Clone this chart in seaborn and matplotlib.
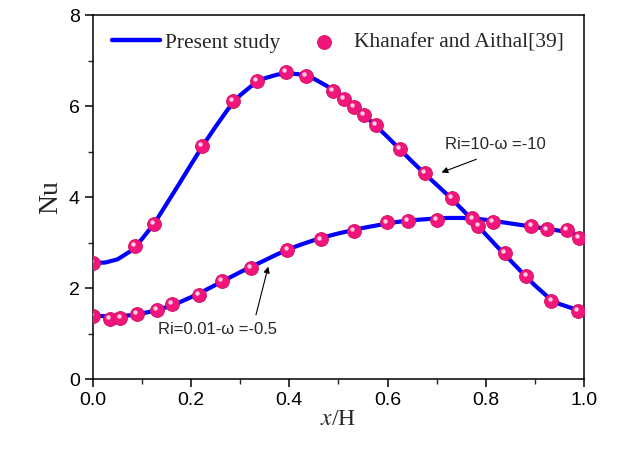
import matplotlib
matplotlib.use("Agg")
import matplotlib.pyplot as plt
import matplotlib.transforms as mtransforms
from matplotlib.ticker import MultipleLocator
import seaborn as sns

# Present study curves
line_x = [0.0, 0.025, 0.05, 0.075, 0.10, 0.125, 0.15, 0.175, 0.20, 0.225,
          0.25, 0.275, 0.30, 0.325, 0.35, 0.375, 0.40, 0.425, 0.45, 0.475,
          0.50, 0.525, 0.55, 0.575, 0.60, 0.625, 0.65, 0.675, 0.70, 0.725,
          0.75, 0.775, 0.80, 0.825, 0.85, 0.875, 0.90, 0.925, 0.95, 0.975, 1.0]
nu_ri10 = [2.55, 2.56, 2.63, 2.80, 3.08, 3.42, 3.85, 4.28, 4.72, 5.15,
           5.55, 5.93, 6.24, 6.46, 6.61, 6.69, 6.72, 6.69, 6.60, 6.45,
           6.26, 6.05, 5.82, 5.58, 5.32, 5.05, 4.78, 4.52, 4.27, 4.02,
           3.75, 3.47, 3.18, 2.89, 2.61, 2.33, 2.06, 1.82, 1.65, 1.56, 1.52]
nu_ri001 = [1.40, 1.38, 1.38, 1.40, 1.44, 1.50, 1.58, 1.68, 1.80, 1.93,
            2.07, 2.21, 2.35, 2.48, 2.61, 2.74, 2.86, 2.96, 3.05, 3.13,
            3.20, 3.26, 3.32, 3.37, 3.42, 3.46, 3.49, 3.51, 3.53, 3.54,
            3.54, 3.53, 3.50, 3.46, 3.42, 3.38, 3.34, 3.30, 3.26, 3.20, 3.12]

# Khanafer and Aithal[39] points
ref10_x = [0.0, 0.086, 0.124, 0.222, 0.285, 0.334, 0.393, 0.434, 0.489, 0.511,
           0.532, 0.552, 0.576, 0.625, 0.676, 0.731, 0.785, 0.839, 0.883, 0.934, 0.988]
ref10_y = [2.55, 2.92, 3.41, 5.12, 6.11, 6.55, 6.75, 6.66, 6.33, 6.15,
           5.98, 5.80, 5.58, 5.05, 4.53, 3.98, 3.36, 2.78, 2.26, 1.72, 1.50]
ref001_x = [0.0, 0.035, 0.056, 0.090, 0.130, 0.160, 0.215, 0.262, 0.321, 0.396,
            0.464, 0.532, 0.599, 0.642, 0.701, 0.773, 0.815, 0.893, 0.925, 0.966, 0.990]
ref001_y = [1.38, 1.33, 1.35, 1.43, 1.52, 1.65, 1.85, 2.15, 2.45, 2.84,
            3.07, 3.26, 3.44, 3.48, 3.49, 3.53, 3.46, 3.36, 3.29, 3.27, 3.11]

sns.set_style("ticks")
plt.rcParams['font.family'] = ['Liberation Sans', 'DejaVu Sans']
plt.rcParams['mathtext.fontset'] = 'stix'

fig = plt.figure(figsize=(6.4, 4.55), dpi=100)
ax = fig.add_axes([0.1453, 0.167, 0.767, 0.8])

blue = '#0000ff'
pink = '#f2157c'

sns.lineplot(x=line_x, y=nu_ri10, ax=ax, color=blue, linewidth=3.0, sort=False,
             label='Present study', zorder=2)
sns.lineplot(x=line_x, y=nu_ri001, ax=ax, color=blue, linewidth=3.0, sort=False,
             zorder=2)

sns.scatterplot(x=ref10_x, y=ref10_y, ax=ax, s=100, color=pink, edgecolor='#d0105f',
                linewidth=0.6, zorder=3, label='Khanafer and Aithal[39]')
sns.scatterplot(x=ref001_x, y=ref001_y, ax=ax, s=100, color=pink, edgecolor='#d0105f',
                linewidth=0.6, zorder=3)

# small highlight on each sphere
shift = mtransforms.ScaledTranslation(-1.3 / 72, 1.3 / 72, fig.dpi_scale_trans)
for xs, ys in [(ref10_x, ref10_y), (ref001_x, ref001_y)]:
    ax.scatter(xs, ys, s=10, color='#ffd0e4', linewidths=0, zorder=4,
               transform=ax.transData + shift)

ax.set_xlim(0, 1.0)
ax.set_ylim(0, 8)
ax.xaxis.set_major_locator(MultipleLocator(0.2))
ax.xaxis.set_minor_locator(MultipleLocator(0.1))
ax.yaxis.set_major_locator(MultipleLocator(2))
ax.yaxis.set_minor_locator(MultipleLocator(1))
ax.tick_params(which='major', direction='out', length=6, width=1.1, labelsize=14,
               colors='black')
ax.tick_params(which='minor', direction='out', length=3.5, width=1.0)
ax.set_xticklabels([f"{v:.1f}" for v in ax.get_xticks()])
for sp in ax.spines.values():
    sp.set_visible(True)
    sp.set_linewidth(1.1)
    sp.set_color('black')

ax.set_xlabel('$x$/H', fontsize=17, family='Liberation Serif', labelpad=0)
ax.set_ylabel('Nu', fontsize=20, family='Liberation Serif', labelpad=4)

ax.annotate('Ri=10-ω =-10', xy=(0.710, 4.54), xytext=(0.717, 5.15),
            fontsize=12, ha='left', va='center')
ax.annotate('', xy=(0.710, 4.54), xytext=(0.781, 4.83),
            arrowprops=dict(arrowstyle='-|>', color='black', lw=0.8,
                            mutation_scale=9, shrinkA=0, shrinkB=0))
ax.annotate('Ri=0.01-ω =-0.5', xy=(0.357, 2.47), xytext=(0.132, 1.08),
            fontsize=12, ha='left', va='center')
ax.annotate('', xy=(0.357, 2.47), xytext=(0.332, 1.41),
            arrowprops=dict(arrowstyle='-|>', color='black', lw=0.8,
                            mutation_scale=9, shrinkA=0, shrinkB=0))

leg = ax.legend(loc='upper left', bbox_to_anchor=(0.0, 1.005), ncol=2, frameon=False,
                prop={'family': 'Liberation Serif', 'size': 15.5},
                handlelength=2.2, columnspacing=0.95, handletextpad=0.25)
for h in leg.legend_handles:
    if h.__class__.__name__ == 'Line2D':
        h.set_linewidth(3.2)

fig.savefig('out.png', dpi=100)
